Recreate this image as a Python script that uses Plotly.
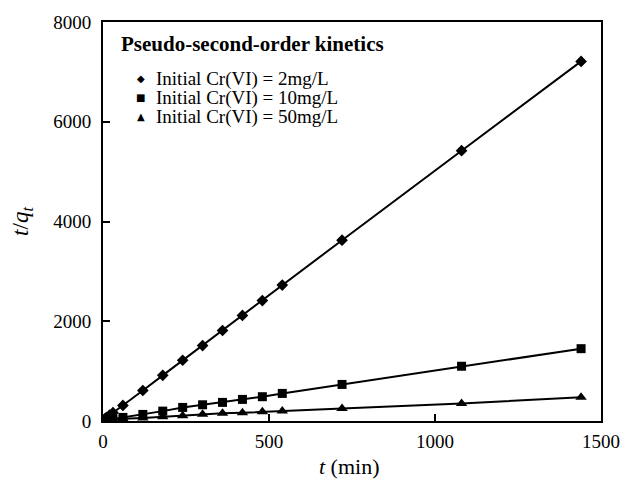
import plotly.graph_objects as go

t = [5, 10, 20, 30, 60, 120, 180, 240, 300, 360, 420, 480, 540, 720, 1080, 1440]
y_2 = [40, 70, 120, 166, 312, 612, 915, 1218, 1512, 1815, 2116, 2415, 2725, 3625, 5420, 7210]
y_10 = [15, 20, 30, 40, 72, 132, 198, 272, 325, 373, 433, 487, 553, 733, 1098, 1450]
y_50 = [10, 14, 20, 26, 45, 60, 86, 106, 134, 154, 166, 186, 200, 253, 353, 475]

names = ["Initial Cr(VI) = 2mg/L", "Initial Cr(VI) = 10mg/L", "Initial Cr(VI) = 50mg/L"]
legend_title = "Pseudo-second-order kinetics"
series = [y_2, y_10, y_50]
symbols = ["diamond", "square", "triangle-up"]
glyphs = ["\u25C6", "\u25A0", "\u25B2"]
sizes = [9, 9, 10]

fig = go.Figure()
for ys in series:
    fig.add_trace(go.Scatter(x=t, y=ys, mode="lines", line=dict(color="black", width=2),
                             showlegend=False, hoverinfo="skip"))
for name, ys, sym, sz in zip(names, series, symbols, sizes):
    fig.add_trace(go.Scatter(x=t, y=ys, mode="markers", name=name, showlegend=False,
                             marker=dict(symbol=sym, size=sz, color="black")))

font_fam = "Liberation Serif"

# legend block drawn as annotations (pixel layout converted to paper coords)
L, R, T, B = 103, 604, 20, 421
def px(x):
    return (x - L) / (R - L)
def py(y):
    return (B - y) / (B - T)

fig.add_annotation(x=px(119), y=py(42), xref="paper", yref="paper", xanchor="left", yanchor="middle",
                   text="<b>" + legend_title + "</b>", showarrow=False,
                   font=dict(family=font_fam, size=21, color="black"))
row_y = [77, 96, 115]
glyph_sizes = [10, 10, 10]
for name, g, gs, ry in zip(names, glyphs, glyph_sizes, row_y):
    fig.add_annotation(x=px(141), y=py(ry), xref="paper", yref="paper", xanchor="center", yanchor="middle",
                       text=g, showarrow=False, font=dict(family="DejaVu Sans", size=gs, color="black"))
    fig.add_annotation(x=px(154), y=py(ry), xref="paper", yref="paper", xanchor="left", yanchor="middle",
                       text=name, showarrow=False, font=dict(family=font_fam, size=19, color="black"))

fig.update_layout(
    width=632, height=490,
    margin=dict(l=L, r=632 - R, t=T, b=490 - B),
    paper_bgcolor="white", plot_bgcolor="white",
    font=dict(family=font_fam, color="black", size=19),
    showlegend=False,
    xaxis=dict(
        range=[0, 1500], tickvals=[0, 500, 1000, 1500],
        ticks="inside", ticklen=7, tickwidth=2, tickcolor="black",
        showline=True, linecolor="black", linewidth=2, mirror=True,
        showgrid=False, zeroline=False,
        tickfont=dict(size=19), ticklabelstandoff=2,
        title=dict(text="<i>t</i> (min)&nbsp;", font=dict(size=22), standoff=8),
    ),
    yaxis=dict(
        range=[0, 8000], tickvals=[0, 2000, 4000, 6000, 8000],
        ticks="inside", ticklen=7, tickwidth=2, tickcolor="black",
        showline=True, linecolor="black", linewidth=2, mirror=True,
        showgrid=False, zeroline=False,
        tickfont=dict(size=19), ticklabelstandoff=6,
        title=dict(text="<i>t</i>/<i>q<sub>t</sub></i>", font=dict(size=23), standoff=18),
    ),
)
fig.write_html("out.html")
